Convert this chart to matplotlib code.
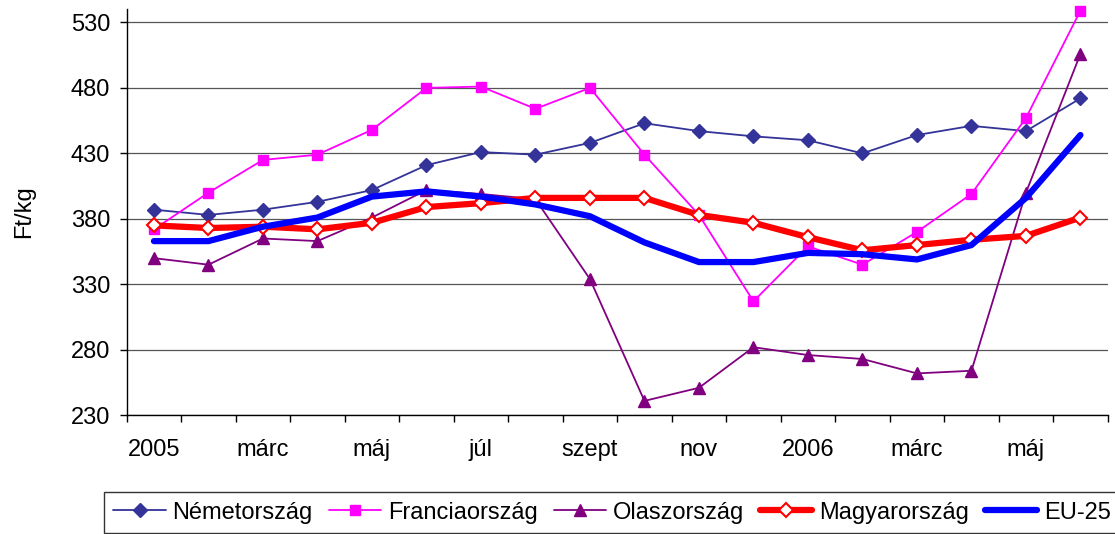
import matplotlib
matplotlib.use("Agg")
import matplotlib.pyplot as plt
import numpy as np

plt.rcParams['font.family'] = ['Liberation Sans', 'DejaVu Sans']

# ---- data ----
months = ['jan05', 'feb05', 'mar05', 'apr05', 'may05', 'jun05', 'jul05', 'aug05', 'sep05',
          'oct05', 'nov05', 'dec05', 'jan06', 'feb06', 'mar06', 'apr06', 'may06', 'jun06']
tick_labels = ['2005', 'márc', 'máj', 'júl', 'szept', 'nov', '2006', 'márc', 'máj']
series_names = ['Németország', 'Franciaország', 'Olaszország', 'Magyarország', 'EU-25']

nemet = [387, 383, 387, 393, 402, 421, 431, 429, 438, 453, 447, 443, 440, 430, 444, 451, 447, 472]
francia = [372, 400, 425, 429, 448, 480, 481, 464, 480, 429, 383, 317, 359, 345, 370, 399, 457, 539]
olasz = [350, 345, 365, 363, 381, 402, 399, 395, 334, 241, 251, 282, 276, 273, 262, 264, 400, 506]
magyar = [375, 373, 374, 372, 377, 389, 392, 396, 396, 396, 383, 377, 366, 356, 360, 364, 367, 381]
eu25 = [363, 363, 374, 381, 397, 401, 397, 391, 382, 362, 347, 347, 354, 353, 349, 360, 396, 444]

y_ticks = [230, 280, 330, 380, 430, 480, 530]

# ---- figure ----
W, H = 1115, 534
fig = plt.figure(figsize=(W / 100, H / 100), dpi=100)
ax = fig.add_axes([126.7 / W, 1 - 415.3 / H, (1107.7 - 126.7) / W, (415.3 - 9.3) / H])

x = np.arange(len(months))
FS = 17

styles = [
    dict(color='#333399', lw=1.3, marker='D', ms=7, mfc='#333399', mec='#333399'),
    dict(color='#FF00FF', lw=1.3, marker='s', ms=7.5, mfc='#FF00FF', mec='#FF00FF'),
    dict(color='#800080', lw=1.3, marker='^', ms=9, mfc='#800080', mec='#800080'),
    dict(color='#FF0000', lw=4.5, marker='D', ms=7, mfc='white', mec='#FF0000', mew=1.5),
    dict(color='#0000FF', lw=4.5, marker=None),
]
data = [nemet, francia, olasz, magyar, eu25]

for name, vals, st in zip(series_names, data, styles):
    ax.plot(x, vals, label=name, clip_on=False, solid_capstyle='round',
            solid_joinstyle='round', zorder=3, **st)

ax.set_xlim(-0.5, len(months) - 0.5)
ax.set_ylim(230, 540)
ax.set_yticks(y_ticks)
ax.set_yticklabels([str(v) for v in y_ticks], fontsize=FS)
ax.yaxis.grid(True, color='#555555', lw=0.9, zorder=0)
ax.set_axisbelow(True)

ax.set_xticks(np.arange(-0.5, len(months), 1.0))
ax.set_xticklabels([])
ax.set_xticks(x[::2], minor=True)
ax.set_xticklabels(tick_labels, minor=True, fontsize=FS)
ax.tick_params(axis='x', which='major', direction='out', length=5, width=1, color='black')
ax.tick_params(axis='x', which='minor', length=0, pad=17)
ax.tick_params(axis='y', direction='out', length=5, width=1, pad=7)

for s in ['top', 'right']:
    ax.spines[s].set_visible(False)
for s in ['left', 'bottom']:
    ax.spines[s].set_color('black')
    ax.spines[s].set_linewidth(1)

fig.text(24 / W, 1 - 212 / H, 'Ft/kg', rotation=90, ha='center', va='center', fontsize=FS)

leg = fig.legend(loc='upper left', bbox_to_anchor=(104 / W, 1 - 492.3 / H),
                 bbox_transform=fig.transFigure, ncol=5, fontsize=FS, frameon=True,
                 fancybox=False, borderaxespad=0, borderpad=0.4, handlelength=2.22,
                 handletextpad=0.28, columnspacing=0.68)
leg.get_frame().set_edgecolor('black')
leg.get_frame().set_linewidth(1)

fig.savefig('out.png', dpi=100)
